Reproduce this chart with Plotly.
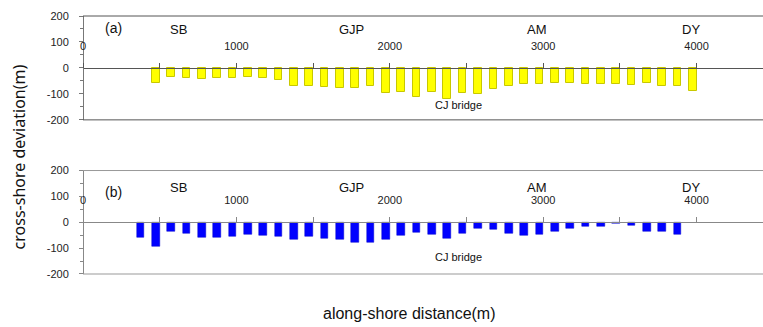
import plotly.graph_objects as go

# ---- data ----
top_dist = [475, 575, 675, 775, 875, 975, 1075, 1175, 1275, 1375, 1475, 1575,
            1675, 1775, 1875, 1975, 2075, 2175, 2275, 2375, 2475, 2575, 2675,
            2775, 2875, 2975, 3075, 3175, 3275, 3375, 3475, 3575, 3675, 3775,
            3875, 3975]
top_dev = [-58, -35, -38, -42, -40, -37, -35, -40, -46, -69, -71, -73,
           -76, -77, -69, -96, -92, -112, -91, -121, -96, -100, -81,
           -69, -63, -62, -58, -58, -63, -62, -63, -65, -59, -68,
           -71, -88]
bot_dist = [375, 475, 575, 675, 775, 875, 975, 1075, 1175, 1275, 1375, 1475,
            1575, 1675, 1775, 1875, 1975, 2075, 2175, 2275, 2375, 2475, 2575,
            2675, 2775, 2875, 2975, 3075, 3175, 3275, 3375, 3475, 3575, 3675,
            3775, 3875]
bot_dev = [-59, -92, -36, -42, -58, -58, -56, -47, -50, -54, -65, -56,
           -64, -68, -78, -77, -67, -53, -41, -49, -62, -42, -26,
           -28, -42, -53, -47, -37, -26, -15, -15, -6, -13, -36,
           -35, -46]
x_tickvals = [0, 1000, 2000, 3000, 4000]
x_ticktext = ["0", "1000", "2000", "3000", "4000"]
y_tickvals = [-200, -100, 0, 100, 200]
y_ticktext = ["-200", "-100", "0", "100", "200"]
site_names = ["SB", "GJP", "AM", "DY"]
site_pos = [622, 1750, 2960, 3964]

W, H = 763, 327
ML, MR, MT, MB = 82.5, 0, 16, 52.7
XMAX = 4433

FONT = "Liberation Sans, Arial, sans-serif"

fig = go.Figure()
fig.add_trace(go.Bar(x=top_dist, y=top_dev, width=50, xaxis="x", yaxis="y",
                     marker=dict(color="#FFFF00", line=dict(color="#C8C800", width=1)),
                     showlegend=False))
fig.add_trace(go.Bar(x=bot_dist, y=bot_dev, width=50, xaxis="x2", yaxis="y2",
                     marker=dict(color="#0000FF", line=dict(color="#0000CC", width=0.5)),
                     showlegend=False))

top_dom = [0.5974, 1.0]
bot_dom = [0.0, 0.4011]

def xax(pos, lc):
    return dict(range=[0, XMAX], domain=[0, 1], anchor="free", position=pos,
                side="top", showline=True, linecolor=lc, linewidth=1,
                ticks="outside", ticklen=5, tickcolor=lc, tickwidth=1,
                tickvals=x_tickvals, ticktext=x_ticktext,
                minor=dict(dtick=500, tick0=0, ticks="outside", ticklen=5,
                           tickcolor=lc, tickwidth=1, showgrid=False),
                ticklabelstandoff=9,
                tickfont=dict(family=FONT, size=11, color="#222"),
                showgrid=False, zeroline=False, fixedrange=True)

def yax(dom, lc):
    return dict(range=[-200, 200], domain=dom, anchor="free", position=0,
                showline=True, linecolor=lc, linewidth=1,
                ticks="outside", ticklen=4, tickcolor=lc,
                tickvals=y_tickvals, ticktext=y_ticktext,
                minor=dict(dtick=50, tick0=0, ticks="outside", ticklen=3,
                           tickcolor=lc, showgrid=False),
                ticklabelstandoff=8,
                tickfont=dict(family=FONT, size=11, color="#222"),
                showgrid=False, zeroline=False, fixedrange=True)

fig.update_layout(
    width=W, height=H,
    margin=dict(l=ML, r=MR, t=MT, b=MB, pad=0),
    paper_bgcolor="white", plot_bgcolor="white",
    bargap=0,
    xaxis=xax(0.7975, "#555555"),
    xaxis2=xax(0.1998, "#888888"),
    yaxis=yax(top_dom, "#777777"),
    yaxis2=yax(bot_dom, "#888888"),
)

shapes = []
for xr, yr, lc in [("x", "y", "#555555"), ("x2", "y2", "#999999")]:
    for yy in (0, 1):
        shapes.append(dict(type="line", xref=xr + " domain", yref=yr + " domain",
                           x0=0, x1=1, y0=yy, y1=yy,
                           line=dict(color=lc, width=1)))
fig.update_layout(shapes=shapes)

ann = []
lab_font = dict(family=FONT, size=13, color="#111")
ann.append(dict(x=200, y=155, xref="x", yref="y", text="(a)", showarrow=False,
                font=dict(family=FONT, size=14, color="#111")))
ann.append(dict(x=200, y=118, xref="x2", yref="y2", text="(b)", showarrow=False,
                font=dict(family=FONT, size=14, color="#111")))
for name, pos in zip(site_names, site_pos):
    ann.append(dict(x=pos, y=147, xref="x", yref="y", text=name,
                    showarrow=False, font=lab_font))
    ann.append(dict(x=pos, y=134, xref="x2", yref="y2", text=name,
                    showarrow=False, font=lab_font))
ann.append(dict(x=2446, y=-141, xref="x", yref="y", text="CJ bridge",
                showarrow=False, font=dict(family=FONT, size=11, color="#111")))
ann.append(dict(x=2446, y=-136, xref="x2", yref="y2", text="CJ bridge",
                showarrow=False, font=dict(family=FONT, size=11, color="#111")))
# axis titles
ann.append(dict(x=18 / W, y=1 - 157 / H, xref="paper", yref="paper",
                text="cross-shore deviation(m)", textangle=-90, showarrow=False,
                font=dict(family="Noto Sans, Open Sans, sans-serif", size=16, color="#111"),
                xanchor="center", yanchor="middle"))
ann.append(dict(x=409 / W, y=1 - 314 / H, xref="paper", yref="paper",
                text="along-shore distance(m)", showarrow=False,
                font=dict(family=FONT, size=16, color="#111"),
                xanchor="center", yanchor="middle"))

# convert paper coords of titles relative to plot area
for a in ann:
    if a["xref"] == "paper":
        a["x"] = (a["x"] * W - ML) / (W - ML - MR)
        a["y"] = (a["y"] * H - MB) / (H - MT - MB)
fig.update_layout(annotations=ann)

fig.write_html("out.html")
